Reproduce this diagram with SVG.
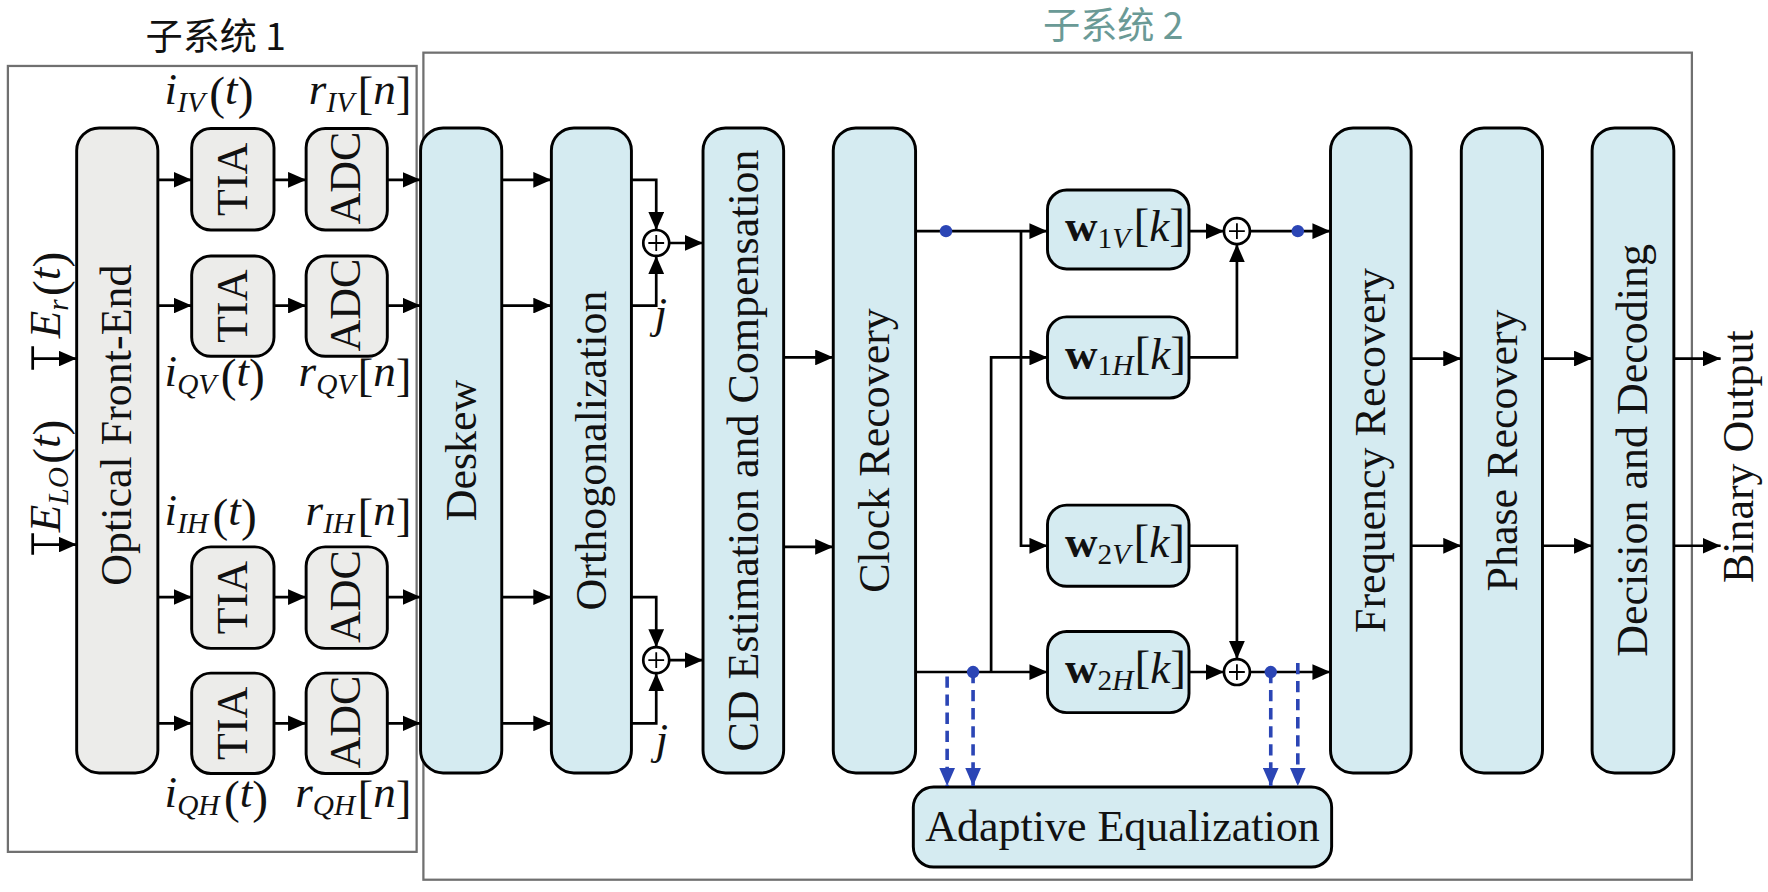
<svg xmlns="http://www.w3.org/2000/svg" width="1768" height="892" viewBox="0 0 1768 892">
<style>
.frame{fill:none;stroke:#707070;stroke-width:2}
.gbox{fill:#ececea;stroke:#000;stroke-width:2.6}
.bbox{fill:#d5ebf1;stroke:#000;stroke-width:2.6}
.t{font-family:"Liberation Serif","Times New Roman",serif;font-size:39px;fill:#111}
.m{font-family:"Liberation Serif","Times New Roman",serif;font-size:40px;fill:#111}
.it{font-style:italic}
.sub{font-size:26px}
.pr{font-size:42px}
.ttl{font-family:"Noto Sans CJK SC","Noto Sans",sans-serif;font-size:33px}
.ln{fill:none;stroke:#000;stroke-width:2.4}
.arr{fill:none;stroke:#000;stroke-width:2.4;marker-end:url(#ah)}
.dash{fill:none;stroke:#2b45b5;stroke-width:3.2;stroke-dasharray:10 6;marker-end:url(#bh)}
.dot{fill:#2b45b5}
.sum{fill:#fff;stroke:#000;stroke-width:2.4}
.plus{stroke:#000;stroke-width:1.6}
</style>
<defs>
<marker id="ah" viewBox="0 0 16 14" refX="16" refY="7" markerWidth="16" markerHeight="14" markerUnits="userSpaceOnUse" orient="auto"><path d="M0,0 L16,7 L0,14 Z" fill="#000"/></marker>
<marker id="bh" viewBox="0 0 16 14" refX="16" refY="7" markerWidth="16" markerHeight="14" markerUnits="userSpaceOnUse" orient="auto"><path d="M0,0 L16,7 L0,14 Z" fill="#2b45b5"/></marker>
</defs>
<rect width="1768" height="892" fill="#fff"/>
<g transform="scale(1.12755)">
<g id="subsystem1">
<rect class="frame" x="7" y="58.5" width="362.5" height="697"/>
<text class="ttl" x="129" y="44" fill="#111">子系统 1</text>
</g>
<g id="subsystem2">
<rect class="frame" x="375.5" y="46.7" width="1125" height="733.5"/>
<text class="ttl" x="925" y="35" fill="#6a9a96">子系统 2</text>
</g>

<g id="ofe"><rect class="gbox" x="68" y="113.5" width="72" height="572" rx="20"/><text class="t" font-size="35" transform="translate(116,377) rotate(-90)" text-anchor="middle">Optical Front-End</text></g>

<g id="tia1"><rect class="gbox" x="170" y="114" width="73" height="90" rx="17"/><text class="t" transform="translate(219,159) rotate(-90)" text-anchor="middle">TIA</text></g>
<g id="tia2"><rect class="gbox" x="170" y="227" width="73" height="89" rx="17"/><text class="t" transform="translate(219,271.5) rotate(-90)" text-anchor="middle">TIA</text></g>
<g id="tia3"><rect class="gbox" x="170" y="485" width="73" height="90" rx="17"/><text class="t" transform="translate(219,530) rotate(-90)" text-anchor="middle">TIA</text></g>
<g id="tia4"><rect class="gbox" x="170" y="597" width="73" height="89" rx="17"/><text class="t" transform="translate(219,641.5) rotate(-90)" text-anchor="middle">TIA</text></g>

<g id="adc1"><rect class="gbox" x="271.5" y="114" width="72" height="90" rx="17"/><text class="t" transform="translate(319.5,158) rotate(-90)" text-anchor="middle">ADC</text></g>
<g id="adc2"><rect class="gbox" x="271.5" y="227" width="72" height="89" rx="17"/><text class="t" transform="translate(319.5,270.5) rotate(-90)" text-anchor="middle">ADC</text></g>
<g id="adc3"><rect class="gbox" x="271.5" y="485" width="72" height="90" rx="17"/><text class="t" transform="translate(319.5,529) rotate(-90)" text-anchor="middle">ADC</text></g>
<g id="adc4"><rect class="gbox" x="271.5" y="597" width="72" height="89" rx="17"/><text class="t" transform="translate(319.5,640.5) rotate(-90)" text-anchor="middle">ADC</text></g>

<g id="labels-sub1">
<text class="m" x="146" y="92"><tspan class="it">i</tspan><tspan class="it sub" dy="7">IV</tspan><tspan class="pr" dx="4" dy="-2">(</tspan><tspan class="it" dy="-5">t</tspan><tspan class="pr" dy="5">)</tspan></text>
<text class="m" x="365" y="92" text-anchor="end"><tspan class="it">r</tspan><tspan class="it sub" dy="7">IV</tspan><tspan class="pr" dx="3" dy="-2">[</tspan><tspan class="it" dy="-5">n</tspan><tspan class="pr" dy="5">]</tspan></text>
<text class="m" x="146" y="342"><tspan class="it">i</tspan><tspan class="it sub" dy="7">QV</tspan><tspan class="pr" dx="4" dy="-2">(</tspan><tspan class="it" dy="-5">t</tspan><tspan class="pr" dy="5">)</tspan></text>
<text class="m" x="365" y="342" text-anchor="end"><tspan class="it">r</tspan><tspan class="it sub" dy="7">QV</tspan><tspan class="pr" dx="2" dy="-2">[</tspan><tspan class="it" dy="-5">n</tspan><tspan class="pr" dy="5">]</tspan></text>
<text class="m" x="146" y="466"><tspan class="it">i</tspan><tspan class="it sub" dy="7">IH</tspan><tspan class="pr" dx="4" dy="-2">(</tspan><tspan class="it" dy="-5">t</tspan><tspan class="pr" dy="5">)</tspan></text>
<text class="m" x="365" y="466" text-anchor="end"><tspan class="it">r</tspan><tspan class="it sub" dy="7">IH</tspan><tspan class="pr" dx="3" dy="-2">[</tspan><tspan class="it" dy="-5">n</tspan><tspan class="pr" dy="5">]</tspan></text>
<text class="m" x="146" y="716"><tspan class="it">i</tspan><tspan class="it sub" dy="7">QH</tspan><tspan class="pr" dx="4" dy="-2">(</tspan><tspan class="it" dy="-5">t</tspan><tspan class="pr" dy="5">)</tspan></text>
<text class="m" x="365" y="716" text-anchor="end"><tspan class="it">r</tspan><tspan class="it sub" dy="7">QH</tspan><tspan class="pr" dx="2" dy="-2">[</tspan><tspan class="it" dy="-5">n</tspan><tspan class="pr" dy="5">]</tspan></text>
<text class="m" transform="translate(53,300) rotate(-90)"><tspan class="it">E</tspan><tspan class="it sub" dy="7">r</tspan><tspan class="pr" dx="3" dy="-2">(</tspan><tspan class="it" dy="-5">t</tspan><tspan class="pr" dy="5">)</tspan></text>
<text class="m" transform="translate(53,472) rotate(-90)"><tspan class="it">E</tspan><tspan class="it sub" dy="7">LO</tspan><tspan class="pr" dx="3" dy="-2">(</tspan><tspan class="it" dy="-5">t</tspan><tspan class="pr" dy="5">)</tspan></text>
</g>

<g id="deskew"><rect class="bbox" x="373" y="113.5" width="72" height="572" rx="20"/><text class="t" transform="translate(422,399.5) rotate(-90)" text-anchor="middle">Deskew</text></g>
<g id="ortho"><rect class="bbox" x="489" y="113.5" width="71" height="572" rx="20"/><text class="t" transform="translate(537.5,399.5) rotate(-90)" text-anchor="middle">Orthogonalization</text></g>
<g id="cd"><rect class="bbox" x="623.5" y="113.5" width="71.5" height="572" rx="20"/><text class="t" transform="translate(672,399.5) rotate(-90)" text-anchor="middle">CD Estimation and Compensation</text></g>
<g id="clock"><rect class="bbox" x="739" y="113.5" width="73" height="572" rx="20"/><text class="t" transform="translate(788.5,399.5) rotate(-90)" text-anchor="middle">Clock Recovery</text></g>
<g id="freq"><rect class="bbox" x="1180" y="113.5" width="71.5" height="572" rx="20"/><text class="t" transform="translate(1228.5,399.5) rotate(-90)" text-anchor="middle">Frequency Recovery</text></g>
<g id="phase"><rect class="bbox" x="1296" y="113.5" width="72" height="572" rx="20"/><text class="t" transform="translate(1345,399.5) rotate(-90)" text-anchor="middle">Phase Recovery</text></g>
<g id="decision"><rect class="bbox" x="1412" y="113.5" width="72.5" height="572" rx="20"/><text class="t" transform="translate(1461,399.5) rotate(-90)" text-anchor="middle">Decision and Decoding</text></g>

<g id="w1v"><rect class="bbox" x="929" y="168.5" width="125.5" height="70" rx="17"/><text class="m" x="944.5" y="214" font-size="39"><tspan font-weight="bold">w</tspan><tspan class="sub" dy="6">1</tspan><tspan class="it sub">V</tspan><tspan class="pr" dx="3" dy="-6">[</tspan><tspan class="it">k</tspan><tspan class="pr">]</tspan></text></g>
<g id="w1h"><rect class="bbox" x="929" y="281" width="125.5" height="72" rx="17"/><text class="m" x="944.5" y="327" font-size="39"><tspan font-weight="bold">w</tspan><tspan class="sub" dy="6">1</tspan><tspan class="it sub">H</tspan><tspan class="pr" dx="1" dy="-6">[</tspan><tspan class="it">k</tspan><tspan class="pr">]</tspan></text></g>
<g id="w2v"><rect class="bbox" x="929" y="448" width="125.5" height="72" rx="17"/><text class="m" x="944.5" y="494" font-size="39"><tspan font-weight="bold">w</tspan><tspan class="sub" dy="6">2</tspan><tspan class="it sub">V</tspan><tspan class="pr" dx="3" dy="-6">[</tspan><tspan class="it">k</tspan><tspan class="pr">]</tspan></text></g>
<g id="w2h"><rect class="bbox" x="929" y="560" width="125.5" height="72" rx="17"/><text class="m" x="944.5" y="606" font-size="39"><tspan font-weight="bold">w</tspan><tspan class="sub" dy="6">2</tspan><tspan class="it sub">H</tspan><tspan class="pr" dx="1" dy="-6">[</tspan><tspan class="it">k</tspan><tspan class="pr">]</tspan></text></g>

<g id="adeq"><rect class="bbox" x="810" y="698" width="371" height="71" rx="18"/><text class="t" x="995.5" y="746" text-anchor="middle">Adaptive Equalization</text></g>

<g id="sum1"><circle class="sum" cx="582" cy="215.5" r="11.5"/><path class="plus" d="M575,215.5 H589 M582,208.5 V222.5"/><text class="m it" x="586" y="291" font-size="36" text-anchor="middle">j</text></g>
<g id="sum2"><circle class="sum" cx="582" cy="585.5" r="11.5"/><path class="plus" d="M575,585.5 H589 M582,578.5 V592.5"/><text class="m it" x="587" y="669" font-size="36" text-anchor="middle">j</text></g>
<g id="sum3"><circle class="sum" cx="1097" cy="205" r="11.5"/><path class="plus" d="M1090,205 H1104 M1097,198 V212"/></g>
<g id="sum4"><circle class="sum" cx="1097" cy="596" r="11.5"/><path class="plus" d="M1090,596 H1104 M1097,589 V603"/></g>

<g id="output"><text class="t" transform="translate(1555,405) rotate(-90)" text-anchor="middle">Binary Output</text></g>

<g id="connectors">
<path class="ln" d="M29,307 V328 M29,473 V492"/>
<path class="arr" d="M29,318 H68"/>
<path class="arr" d="M29,483 H68"/>
<path class="arr" d="M140,159.5 H170"/>
<path class="arr" d="M140,271 H170"/>
<path class="arr" d="M140,529.5 H170"/>
<path class="arr" d="M140,641.5 H170"/>
<path class="arr" d="M243,159.5 H271.5"/>
<path class="arr" d="M243,271 H271.5"/>
<path class="arr" d="M243,529.5 H271.5"/>
<path class="arr" d="M243,641.5 H271.5"/>
<path class="arr" d="M343.5,159.5 H373"/>
<path class="arr" d="M343.5,271 H373"/>
<path class="arr" d="M343.5,529.5 H373"/>
<path class="arr" d="M343.5,641.5 H373"/>
<path class="arr" d="M445,159.5 H489"/>
<path class="arr" d="M445,271 H489"/>
<path class="arr" d="M445,529.5 H489"/>
<path class="arr" d="M445,641.5 H489"/>
<path class="arr" d="M560,159.5 H582 V204"/>
<path class="arr" d="M560,271 H582 V227"/>
<path class="arr" d="M593.5,215.5 H623.5"/>
<path class="arr" d="M560,529.5 H582 V574"/>
<path class="arr" d="M560,641.5 H582 V597"/>
<path class="arr" d="M593.5,585.5 H623.5"/>
<path class="arr" d="M695,317 H739"/>
<path class="arr" d="M695,485 H739"/>
<path class="arr" d="M812,205 H929"/>
<path class="arr" d="M905.5,205 V484 H929"/>
<path class="arr" d="M812,596 H929"/>
<path class="arr" d="M879,596 V317 H929"/>
<path class="arr" d="M1054.5,205 H1085.5"/>
<path class="arr" d="M1054.5,317 H1097 V216.5"/>
<path class="arr" d="M1108.5,205 H1180"/>
<path class="arr" d="M1054.5,484 H1097 V584.5"/>
<path class="arr" d="M1054.5,596 H1085.5"/>
<path class="arr" d="M1108.5,596 H1180"/>
<path class="arr" d="M1251.5,318 H1296"/>
<path class="arr" d="M1251.5,484 H1296"/>
<path class="arr" d="M1368,318 H1412"/>
<path class="arr" d="M1368,484 H1412"/>
<path class="arr" d="M1484.5,318 H1526"/>
<path class="arr" d="M1484.5,484 H1526"/>
<path class="dash" d="M840,600 V697"/>
<path class="dash" d="M863,596 V697"/>
<path class="dash" d="M1127,596 V697"/>
<path class="dash" d="M1151,588 V697"/>
<circle class="dot" cx="839" cy="205" r="5.5"/>
<circle class="dot" cx="863" cy="596" r="5.5"/>
<circle class="dot" cx="1127" cy="596" r="5.5"/>
<circle class="dot" cx="1151" cy="205" r="5.5"/>
</g>
</g>
</svg>
